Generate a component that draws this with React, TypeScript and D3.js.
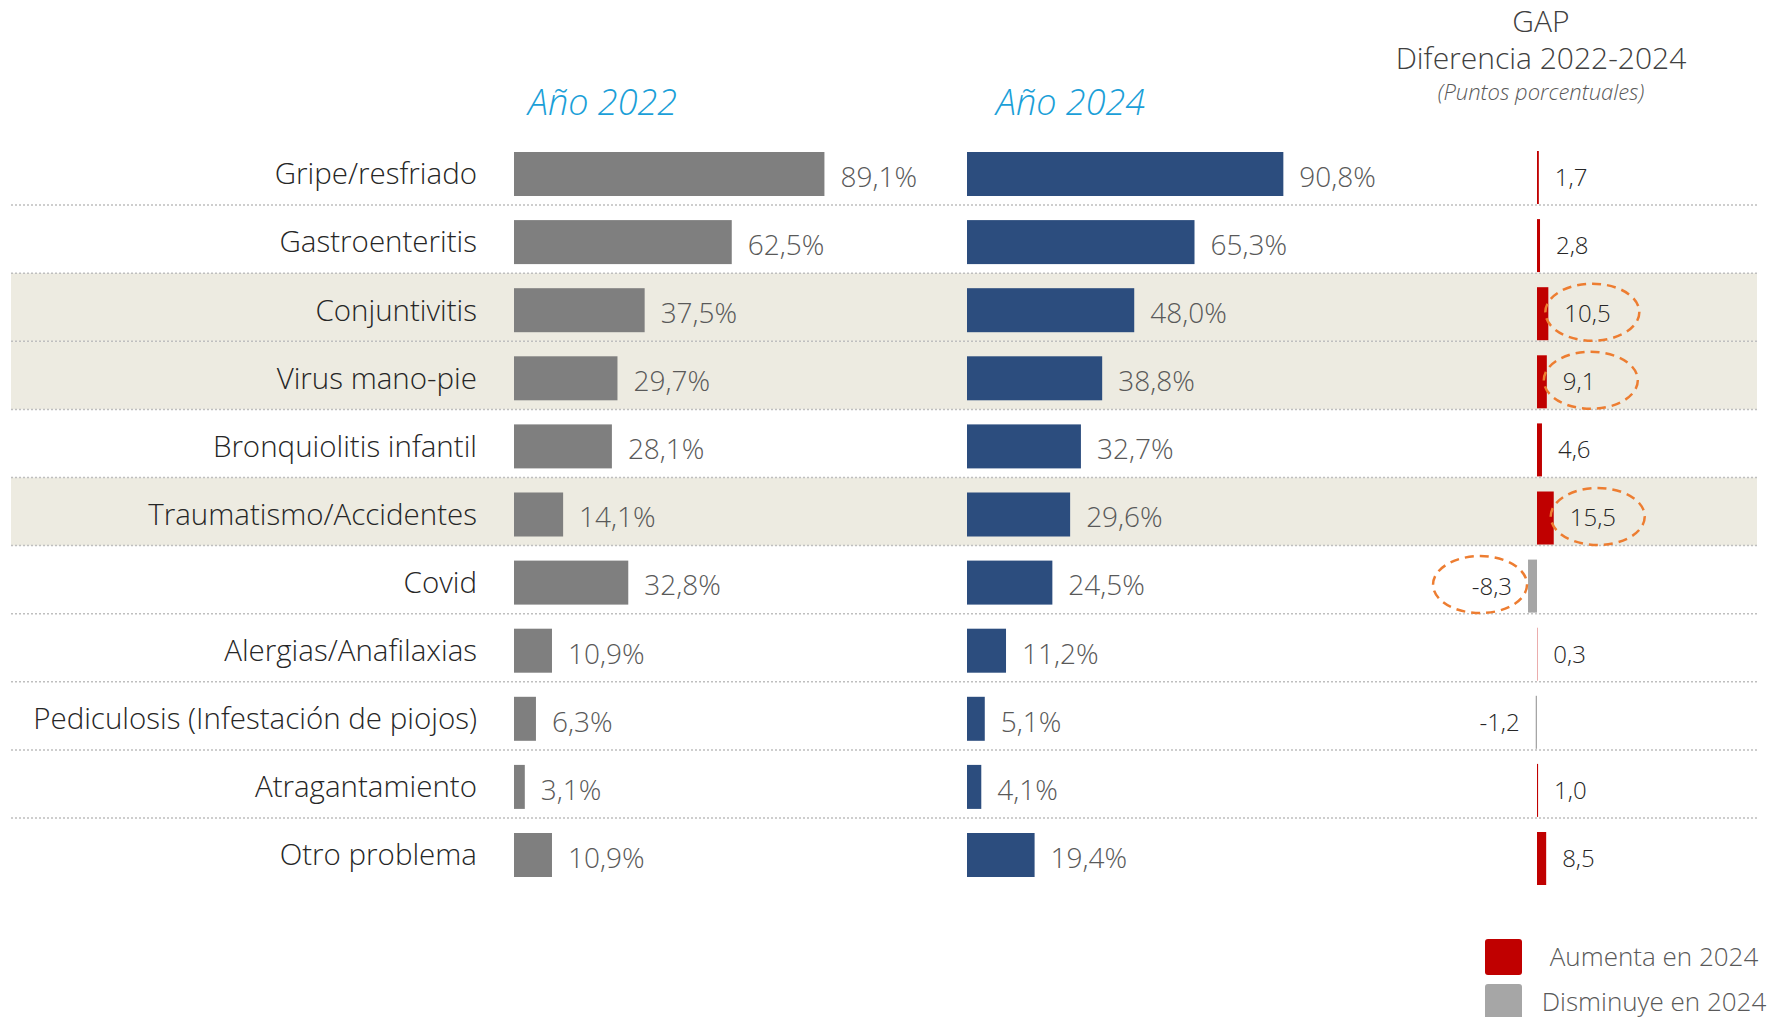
import React from "react";
import * as d3 from "d3";

const categories = [
  "Gripe/resfriado",
  "Gastroenteritis",
  "Conjuntivitis",
  "Virus mano-pie",
  "Bronquiolitis infantil",
  "Traumatismo/Accidentes",
  "Covid",
  "Alergias/Anafilaxias",
  "Pediculosis (Infestación de piojos)",
  "Atragantamiento",
  "Otro problema",
];
const values2022 = [89.1, 62.5, 37.5, 29.7, 28.1, 14.1, 32.8, 10.9, 6.3, 3.1, 10.9];
const values2024 = [90.8, 65.3, 48.0, 38.8, 32.7, 29.6, 24.5, 11.2, 5.1, 4.1, 19.4];
const gaps = [1.7, 2.8, 10.5, 9.1, 4.6, 15.5, -8.3, 0.3, -1.2, 1.0, 8.5];
const shadedRows = ["Conjuntivitis", "Virus mano-pie", "Traumatismo/Accidentes"];
const circledRows = ["Conjuntivitis", "Virus mano-pie", "Traumatismo/Accidentes", "Covid"];
const legendItems = ["Aumenta en 2024", "Disminuye en 2024"];

const W = 1770;
const H = 1017;
const FONT = "'Open Sans', 'Noto Sans', sans-serif";
const BLUE_TITLE = "#1b9fd8";
const GREY_BAR = "#7f7f7f";
const NAVY_BAR = "#2c4d7e";
const RED = "#c00000";
const GREY_GAP = "#a6a6a6";

const locale = d3.formatLocale({ decimal: ",", thousands: ".", grouping: [3], currency: ["", "€"], minus: "-" });
const fmt = locale.format(".1f");

export default function App() {
  const y = d3.scaleBand<string>().domain(categories).range([137, 137 + 68.1 * categories.length]);
  const x = d3.scaleLinear().domain([0, 100]).range([0, 348.4]);
  const x22 = 514;
  const x24 = 967;
  const g = d3.scaleLinear().domain([0, 10]).range([1537, 1547.8]);

  const rows = categories.map((c, i) => ({ c, v22: values2022[i], v24: values2024[i], gap: gaps[i] }));

  return (
    <svg
      width={W}
      height={H}
      style={{ position: "absolute", left: 0, top: 0, background: "#fff" }}
      fontFamily={FONT}
    >
      {/* shaded rows */}
      {rows
        .filter((r) => shadedRows.includes(r.c))
        .map((r) => (
          <rect key={"bg" + r.c} x={11} width={1746} y={y(r.c)} height={y.bandwidth()} fill="#edebe1" />
        ))}

      {/* dotted separators */}
      {categories.slice(1).map((c) => (
        <line
          key={"sep" + c}
          x1={11}
          x2={1757}
          y1={y(c)}
          y2={y(c)}
          stroke="#bfbfbf"
          strokeWidth={1.5}
          strokeDasharray="2 2"
        />
      ))}

      {/* headers */}
      <text x={528} y={115} fontSize={36} fontStyle="italic" fontWeight={300} fill={BLUE_TITLE}>
        Año 2022
      </text>
      <text x={996} y={115} fontSize={36} fontStyle="italic" fontWeight={300} fill={BLUE_TITLE}>
        Año 2024
      </text>
      <text x={1541} y={32} fontSize={30} fontWeight={300} fill="#404040" textAnchor="middle">
        GAP
      </text>
      <text x={1541} y={69} fontSize={30} fontWeight={300} fill="#404040" textAnchor="middle">
        Diferencia 2022-2024
      </text>
      <text x={1541} y={100} fontSize={22} fontStyle="italic" fontWeight={300} fill="#595959" textAnchor="middle">
        (Puntos porcentuales)
      </text>

      {rows.map((r) => {
        const top = y(r.c) as number;
        const mid = top + 15 + 22;
        const gEnd = g(r.gap);
        const pos = r.gap >= 0;
        return (
          <g key={r.c}>
            <text x={477} y={mid} dy="0.35em" fontSize={29.5} fontWeight={300} fill="#262626" textAnchor="end">
              {r.c}
            </text>
            <rect x={x22} y={top + 15} width={x(r.v22)} height={44} fill={GREY_BAR} />
            <text x={x22 + x(r.v22) + 16} y={mid + 3} dy="0.35em" fontSize={28} fontWeight={300} fill="#595959">
              {fmt(r.v22)}%
            </text>
            <rect x={x24} y={top + 15} width={x(r.v24)} height={44} fill={NAVY_BAR} />
            <text x={x24 + x(r.v24) + 16} y={mid + 3} dy="0.35em" fontSize={28} fontWeight={300} fill="#595959">
              {fmt(r.v24)}%
            </text>
            <rect
              x={Math.min(g(0), gEnd)}
              y={top + 14}
              width={Math.abs(gEnd - g(0))}
              height={53}
              fill={pos ? RED : GREY_GAP}
            />
            <text
              x={pos ? gEnd + 16 : gEnd - 16}
              y={top + 14 + 26.5}
              dy="0.35em"
              fontSize={24}
              fontWeight={300}
              fill="#262626"
              textAnchor={pos ? "start" : "end"}
            >
              {fmt(r.gap)}
            </text>
            {circledRows.includes(r.c) && (
              <ellipse
                cx={pos ? gEnd + 44 : gEnd - 48}
                cy={top + 14 + 25}
                rx={47}
                ry={28.5}
                fill="none"
                stroke="#ed7d31"
                strokeWidth={2.5}
                strokeDasharray="9 6"
              />
            )}
          </g>
        );
      })}

      {/* legend */}
      {legendItems.map((t, i) => (
        <g key={t}>
          <rect x={1485} y={939 + i * 45} width={37} height={36} rx={3} fill={i === 0 ? RED : GREY_GAP} />
          <text x={1654} y={957 + i * 45} dy="0.35em" fontSize={26} fontWeight={300} fill="#595959" textAnchor="middle">
            {t}
          </text>
        </g>
      ))}
    </svg>
  );
}
